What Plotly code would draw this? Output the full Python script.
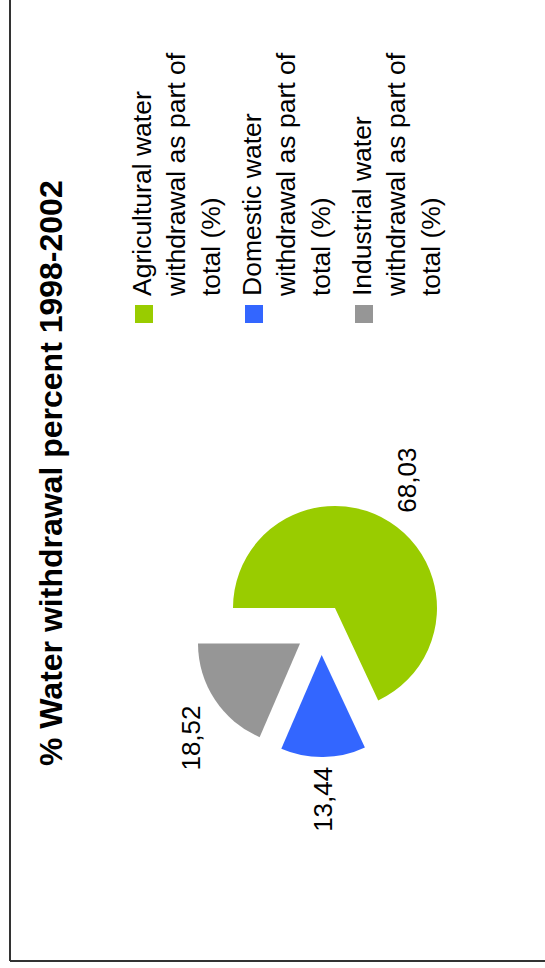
import math
import plotly.graph_objects as go

# Water withdrawal shares, 1998-2002
categories = [
    "Agricultural water withdrawal as part of total (%)",
    "Domestic water withdrawal as part of total (%)",
    "Industrial water withdrawal as part of total (%)",
]
legend_lines = [
    "Agricultural water<br>withdrawal as part of<br>total (%)",
    "Domestic water<br>withdrawal as part of<br>total (%)",
    "Industrial water<br>withdrawal as part of<br>total (%)",
]
values = [68.03, 13.44, 18.52]
colors = ["#99CC00", "#3366FF", "#969696"]
title_text = "% Water withdrawal percent 1998-2002"

W, H = 545, 968
FONT = "Liberation Sans, Arial, sans-serif"


def px(x):
    return x / W


def py(y):
    return 1 - y / H


# pie placement (pixels)
cx, cy = 321.3, 629.5
pull = 0.25
outer = 127.5          # radius * (1 + pull)
rotation = 270

fig = go.Figure(
    go.Pie(
        labels=categories,
        values=values,
        marker=dict(colors=colors, line=dict(width=0)),
        sort=False,
        direction="clockwise",
        rotation=rotation,
        pull=[pull] * len(values),
        textinfo="none",
        hoverinfo="label+value",
        domain=dict(x=[px(cx - outer), px(cx + outer)],
                    y=[py(cy + outer), py(cy - outer)]),
    )
)

annotations = []
shapes = []

# value labels, rotated, placed just outside each slice
total = sum(values)
start = rotation
for v in values:
    span = 360 * v / total
    mid = math.radians(start + span / 2)
    start += span
    dx, dy = math.sin(mid), -math.cos(mid)
    d = outer + 8
    lx, ly = cx + d * dx, cy + d * dy
    xa = "left" if dx > 0.3 else ("right" if dx < -0.3 else "center")
    ya = "bottom" if dy < -0.3 else ("top" if dy > 0.3 else "middle")
    annotations.append(dict(
        x=px(lx - (4 if xa == "left" else 0)), y=py(ly), xref="paper", yref="paper",
        text=f"{v:.2f}".replace(".", ","), showarrow=False,
        textangle=-90, xanchor=xa, yanchor=ya,
        font=dict(family=FONT, size=26, color="#000000"),
    ))

# title
annotations.append(dict(
    x=px(51), y=py(473), xref="paper", yref="paper",
    text=f"<b>{title_text}</b>", showarrow=False, textangle=-90,
    xanchor="center", yanchor="middle",
    font=dict(family=FONT, size=32, color="#000000"),
))

# legend: swatch + rotated three-line label per entry
for i, (txt, col) in enumerate(zip(legend_lines, colors)):
    x0 = 135 + 110 * i
    shapes.append(dict(type="rect", xref="paper", yref="paper",
                       x0=px(x0), x1=px(x0 + 18), y0=py(323), y1=py(305),
                       fillcolor=col, line=dict(width=0)))
    annotations.append(dict(
        x=px(x0 - 10), y=py(299), xref="paper", yref="paper",
        text=txt, showarrow=False, textangle=-90, align="left",
        xanchor="left", yanchor="bottom",
        font=dict(family=FONT, size=26.5, color="#000000"),
    ))

# frame edges
shapes.append(dict(type="line", xref="paper", yref="paper",
                   x0=px(10), x1=px(10), y0=py(-5), y1=py(961),
                   line=dict(color="#333333", width=2)))
shapes.append(dict(type="line", xref="paper", yref="paper",
                   x0=px(10), x1=px(W + 5), y0=py(961), y1=py(961),
                   line=dict(color="#333333", width=2)))

fig.update_layout(
    width=W, height=H,
    margin=dict(l=0, r=0, t=0, b=0),
    paper_bgcolor="#FFFFFF",
    plot_bgcolor="#FFFFFF",
    showlegend=False,
    annotations=annotations,
    shapes=shapes,
)

fig.write_html("out.html")
